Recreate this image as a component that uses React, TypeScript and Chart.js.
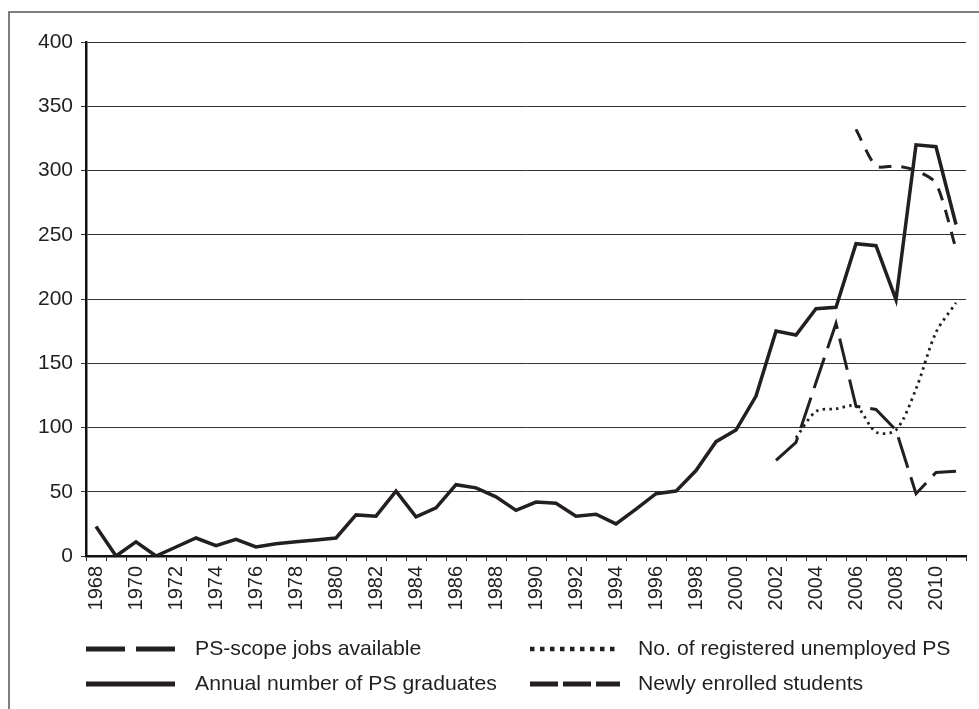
import React, { useEffect, useRef } from "react";
import { Chart, registerables } from "chart.js";

Chart.register(...registerables);

const years: string[] = [
  "1968", "1969", "1970", "1971", "1972", "1973", "1974", "1975", "1976", "1977",
  "1978", "1979", "1980", "1981", "1982", "1983", "1984", "1985", "1986", "1987",
  "1988", "1989", "1990", "1991", "1992", "1993", "1994", "1995", "1996", "1997",
  "1998", "1999", "2000", "2001", "2002", "2003", "2004", "2005", "2006", "2007",
  "2008", "2009", "2010", "2011",
];

const graduates: (number | null)[] = [
  23, 0, 11, 0, 7, 14, 8, 13, 7, 9.5,
  11, 12.5, 14, 32, 31, 50.5, 30.5, 37.5, 55.5, 53,
  46, 35.5, 42, 41, 31, 32.5, 25, 36.5, 48.5, 50.5,
  66.5, 89, 98, 124.5, 175, 172, 192.5, 193.5, 243, 241.5,
  199.5, 320, 318.5, 258,
];

const psScopeJobs: (number | null)[] = [
  null, null, null, null, null, null, null, null, null, null,
  null, null, null, null, null, null, null, null, null, null,
  null, null, null, null, null, null, null, null, null, null,
  null, null, null, null, 74.5, 88.5, 135, 181, 116.5, 114,
  98, 48.5, 65, 66,
];

const registeredUnemployed: (number | null)[] = [
  null, null, null, null, null, null, null, null, null, null,
  null, null, null, null, null, null, null, null, null, null,
  null, null, null, null, null, null, null, null, null, null,
  null, null, null, null, null, 92, 112.5, 114.5, 116.5, 96.5,
  98, 130, 174, 197,
];

const newlyEnrolled: (number | null)[] = [
  null, null, null, null, null, null, null, null, null, null,
  null, null, null, null, null, null, null, null, null, null,
  null, null, null, null, null, null, null, null, null, null,
  null, null, null, null, null, null, null, null, 332, 303.5,
  303.5, 300, 290, 239,
];

const yTicks: number[] = [0, 50, 100, 150, 200, 250, 300, 350, 400];

const seriesLabels: string[] = [
  "PS-scope jobs available",
  "No. of registered unemployed PS",
  "Annual number of PS graduates",
  "Newly enrolled students",
];

const INK = "#231f20";
const FONT = "'Liberation Sans', Arial, Helvetica, sans-serif";

type LegendItem = { label: string; dash: number[]; width: number; col: number; row: number };

const legendItems: LegendItem[] = [
  { label: seriesLabels[0], dash: [39, 11], width: 5, col: 0, row: 0 },
  { label: seriesLabels[1], dash: [4.5, 5.5], width: 4.5, col: 1, row: 0 },
  { label: seriesLabels[2], dash: [], width: 5, col: 0, row: 1 },
  { label: seriesLabels[3], dash: [28, 5], width: 5, col: 1, row: 1 },
];

const framePlugin = {
  id: "frame",
  beforeDraw(chart: any) {
    const ctx = chart.ctx;
    ctx.save();
    ctx.fillStyle = "#ffffff";
    ctx.fillRect(0, 0, chart.width, chart.height);
    ctx.strokeStyle = "#555";
    ctx.lineWidth = 1.5;
    ctx.beginPath();
    ctx.moveTo(9, chart.height + 2);
    ctx.lineTo(9, 12);
    ctx.lineTo(chart.width + 2, 12);
    ctx.stroke();
    ctx.restore();
  },
};

const legendPlugin = {
  id: "customLegend",
  afterDraw(chart: any) {
    const ctx = chart.ctx;
    const colX = [
      { s: 86, e: 175, t: 195 },
      { s: 530, e: 620, t: 638 },
    ];
    const rowY = [649, 684];
    ctx.save();
    legendItems.forEach((it) => {
      const c = colX[it.col];
      const y = rowY[it.row];
      ctx.strokeStyle = INK;
      ctx.lineWidth = it.width;
      ctx.lineCap = "butt";
      ctx.setLineDash(it.dash);
      ctx.beginPath();
      ctx.moveTo(c.s, y);
      ctx.lineTo(c.e, y);
      ctx.stroke();
      ctx.setLineDash([]);
      ctx.fillStyle = INK;
      ctx.font = `21px ${FONT}`;
      ctx.textBaseline = "middle";
      ctx.textAlign = "left";
      ctx.save();
      ctx.translate(c.t, y);
      ctx.scale(1.01, 1);
      ctx.fillText(it.label, 0, 0);
      ctx.restore();
    });
    ctx.restore();
  },
};

export default function App() {
  const ref = useRef<HTMLCanvasElement | null>(null);

  useEffect(() => {
    document.body.style.margin = "0";
    const canvas = ref.current;
    if (!canvas) return;
    const chart = new Chart(canvas, {
      type: "line",
      data: {
        labels: years,
        datasets: [
          {
            label: seriesLabels[0],
            data: psScopeJobs,
            borderColor: INK,
            borderWidth: 3,
            borderDash: [32, 10],
            tension: 0,
            pointRadius: 0,
            fill: false,
          },
          {
            label: seriesLabels[1],
            data: registeredUnemployed,
            borderColor: INK,
            borderWidth: 2.8,
            borderDash: [2.5, 4.2],
            tension: 0.3,
            pointRadius: 0,
            fill: false,
          },
          {
            label: seriesLabels[3],
            data: newlyEnrolled,
            borderColor: INK,
            borderWidth: 3,
            borderDash: [12.5, 10],
            tension: 0.25,
            pointRadius: 0,
            fill: false,
          },
          {
            label: seriesLabels[2],
            data: graduates,
            borderColor: INK,
            borderWidth: 3.5,
            tension: 0,
            pointRadius: 0,
            fill: false,
          },
        ],
      },
      options: {
        animation: false,
        responsive: false,
        devicePixelRatio: 1,
        layout: { padding: { left: 0, right: 13, top: 42, bottom: 0 } },
        plugins: {
          legend: { display: false },
          tooltip: { enabled: false },
        },
        elements: {
          point: { radius: 0 },
          line: { borderCapStyle: "butt", borderJoinStyle: "miter" },
        },
        scales: {
          x: {
            type: "category",
            offset: true,
            grid: {
              display: true,
              drawOnChartArea: false,
              offset: true,
              tickLength: 5,
              color: "#222",
              lineWidth: 1,
            },
            border: { display: true, color: "#111", width: 2.5 },
            ticks: {
              autoSkip: false,
              maxRotation: 90,
              minRotation: 90,
              padding: 5,
              color: INK,
              font: { family: FONT, size: 20 },
              callback: (_v: any, i: number) => (i % 2 === 0 ? years[i] : ""),
            },
            afterFit: (s: any) => {
              s.height = 153;
              s.paddingLeft = 0;
              s.paddingRight = 0;
            },
          },
          y: {
            min: 0,
            max: 400,
            afterBuildTicks: (s: any) => {
              s.ticks = yTicks.map((v) => ({ value: v }));
            },
            ticks: {
              stepSize: 50,
              padding: 8,
              color: INK,
              font: { family: FONT, size: 21 },
            },
            grid: { color: "#333", lineWidth: 1, tickLength: 5 },
            border: { display: true, color: "#111", width: 2.5 },
            afterFit: (s: any) => {
              s.width = 86;
              s.paddingTop = 0;
              s.paddingBottom = 0;
            },
          },
        },
      },
      plugins: [framePlugin, legendPlugin],
    } as any);
    return () => chart.destroy();
  }, []);

  return (
    <div style={{ width: 979, height: 709, position: "relative", background: "#fff" }}>
      <canvas ref={ref} width={979} height={709} style={{ display: "block", width: 979, height: 709 }} />
    </div>
  );
}
